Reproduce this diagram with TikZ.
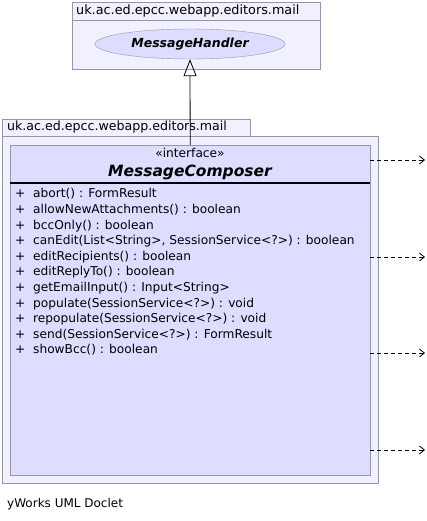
\documentclass[tikz,border=0pt]{standalone}
\usepackage{fontspec}
\setmainfont{DejaVu Sans}
\usetikzlibrary{shapes.geometric,arrows.meta,positioning}

\definecolor{pkgfill}{RGB}{240,240,255}
\definecolor{pkgline}{RGB}{150,150,170}
\definecolor{clsfill}{RGB}{221,221,255}

\tikzset{
  pkg/.style = {draw=pkgline, fill=pkgfill},
  txt/.style = {inner sep=0pt, font=\fontsize{12.2}{15.6}\selectfont},
  dep/.style = {line width=0.8pt, dash pattern=on 4pt off 3pt, -{Straight Barb[length=5pt,width=8pt]}}
}

\begin{document}
\begin{tikzpicture}[x=1pt, y=-1pt]
    \useasboundingbox (0,0) rectangle (426,521);

    % package with the super interface
    \draw[pkg] (72,2) rectangle (320,69);
    \draw[pkgline] (72,20) -- (320,20);
    \node[txt, font=\fontsize{12.8}{14}\selectfont, anchor=west] (toppkg) at (76,11) {uk.ac.ed.epcc.webapp.editors.mail};
    \node[ellipse, draw=pkgline, fill=clsfill, minimum width=190pt, minimum height=30pt,
          inner sep=0pt, font=\fontsize{12.5}{14}\selectfont\bfseries\itshape] (handler) at (190,44) {MessageHandler};

    % package with the class
    \draw[pkg] (2,119) rectangle (250,136);
    \draw[pkg] (2,136) rectangle (378,483);
    \node[txt, font=\fontsize{12.6}{14}\selectfont, anchor=west] (botpkg) at (7,127.5) {uk.ac.ed.epcc.webapp.editors.mail};

    \node[draw=pkgline, fill=clsfill, anchor=north west, minimum width=360pt, minimum height=330pt,
          inner sep=0pt] (composer) at (10,145) {};
    \node[txt] (stereo) at (190,153) {«interface»};
    \node[inner sep=0pt, font=\fontsize{15.5}{18}\selectfont\bfseries\itshape] (name) at (190,172) {MessageComposer};
    \draw[line width=2pt] (10,183) -- (370,183);
    \node[txt, anchor=north west, align=left] (ops) at (15,188.5) {%
        +\ \ abort() : FormResult\\
        +\ \ allowNewAttachments() : boolean\\
        +\ \ bccOnly() : boolean\\
        +\ \ canEdit(List<String>, SessionService<?>) : boolean\\
        +\ \ editRecipients() : boolean\\
        +\ \ editReplyTo() : boolean\\
        +\ \ getEmailInput() : Input<String>\\
        +\ \ populate(SessionService<?>) : void\\
        +\ \ repopulate(SessionService<?>) : void\\
        +\ \ send(SessionService<?>) : FormResult\\
        +\ \ showBcc() : boolean};

    \draw[line width=0.8pt, -{Triangle[open,length=17pt,width=13pt]}] (composer.north) -- (handler.south);

    % dependencies leaving the picture
    \coordinate (d1) at (425,160);
    \coordinate (d2) at (425,257);
    \coordinate (d3) at (425,353);
    \coordinate (d4) at (425,450);
    \draw[dep] (composer.east |- d1) -- (d1);
    \draw[dep] (composer.east |- d2) -- (d2);
    \draw[dep] (composer.east |- d3) -- (d3);
    \draw[dep] (composer.east |- d4) -- (d4);

    \node[txt, font=\fontsize{12}{14}\selectfont, anchor=west] (doclet) at (7,504) {yWorks UML Doclet};
\end{tikzpicture}
\end{document}
